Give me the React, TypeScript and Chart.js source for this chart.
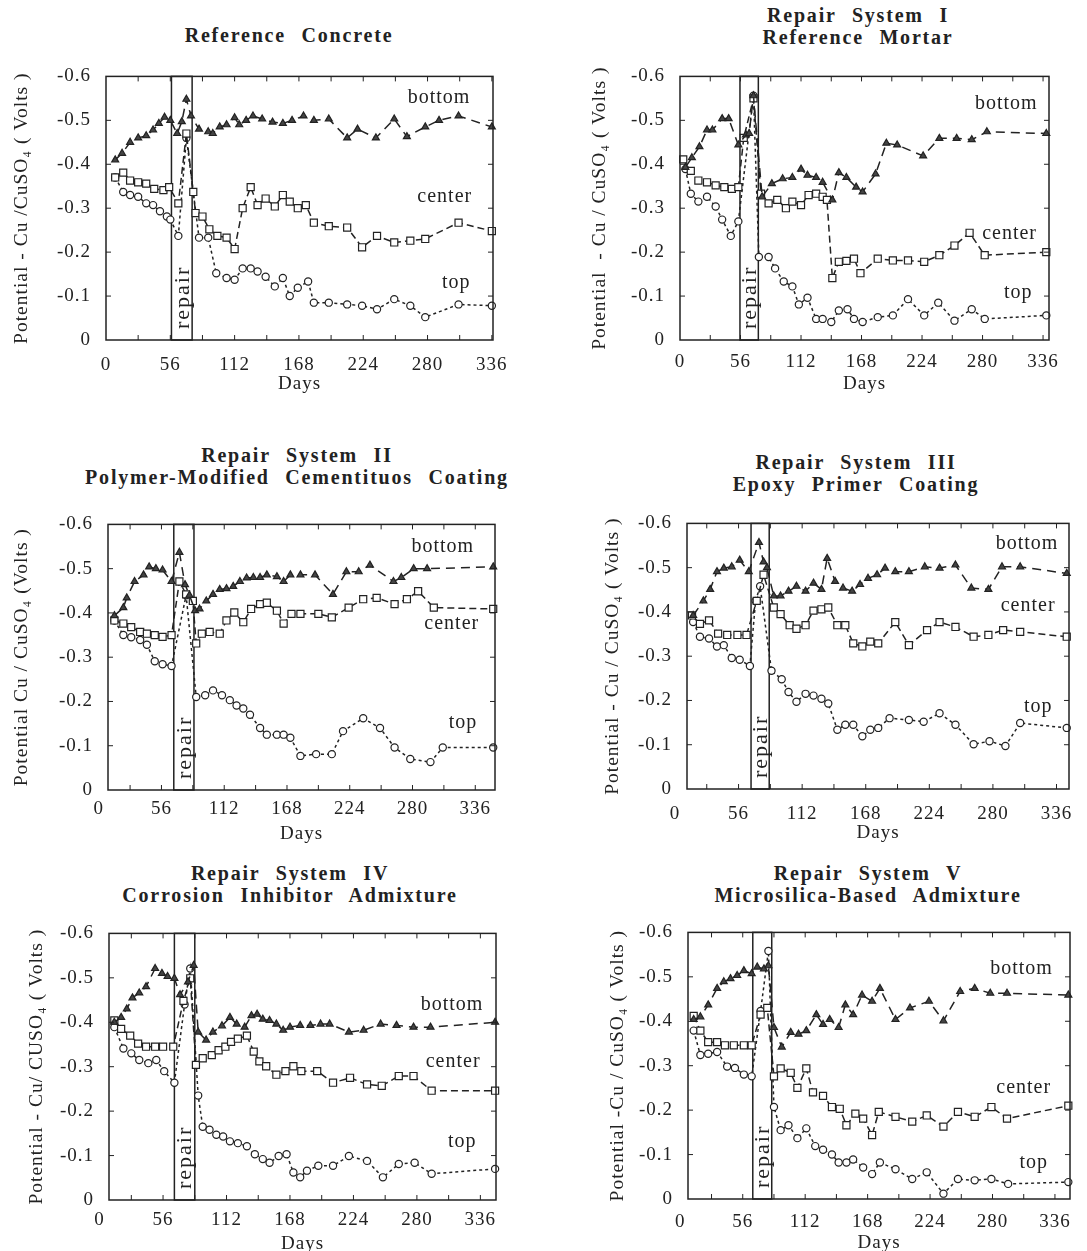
import React, { useEffect, useRef } from "react";
import { Chart, registerables } from "chart.js";

Chart.register(...registerables);

type Pt = [number, number]; // [day, potential in volts]

// ---------- Reference Concrete ----------
const refConcreteBottom: Pt[] = [[8,-0.41],[14,-0.425],[21,-0.45],[28,-0.46],[35,-0.465],[41,-0.478],[46,-0.493],[51,-0.507],[56,-0.5],[62,-0.47],[66,-0.497],[70,-0.548],[74,-0.51],[81,-0.48],[89,-0.474],[93,-0.47],[99,-0.485],[105,-0.49],[112,-0.506],[116,-0.49],[122,-0.5],[128,-0.51],[136,-0.503],[145,-0.496],[154,-0.493],[162,-0.5],[172,-0.51],[181,-0.5],[194,-0.503],[210,-0.46],[219,-0.48],[235,-0.46],[251,-0.503],[262,-0.463],[278,-0.485],[290,-0.5],[307,-0.51],[336,-0.485]];
const refConcreteCenter: Pt[] = [[8,-0.37],[15,-0.381],[21,-0.363],[28,-0.359],[35,-0.356],[42,-0.344],[50,-0.341],[55,-0.348],[63,-0.311],[70,-0.47],[76,-0.337],[78,-0.289],[84,-0.281],[90,-0.252],[97,-0.237],[105,-0.233],[112,-0.207],[119,-0.3],[126,-0.348],[132,-0.307],[139,-0.322],[147,-0.304],[154,-0.33],[160,-0.315],[167,-0.3],[174,-0.307],[181,-0.267],[194,-0.259],[210,-0.256],[223,-0.211],[236,-0.237],[251,-0.222],[265,-0.226],[278,-0.23],[307,-0.267],[336,-0.248]];
const refConcreteTop: Pt[] = [[8,-0.37],[15,-0.337],[21,-0.33],[28,-0.326],[35,-0.311],[41,-0.307],[47,-0.293],[53,-0.281],[56,-0.274],[63,-0.237],[70,-0.46],[81,-0.233],[89,-0.233],[96,-0.152],[105,-0.141],[112,-0.137],[119,-0.163],[126,-0.163],[132,-0.156],[139,-0.144],[147,-0.122],[154,-0.141],[160,-0.1],[167,-0.119],[176,-0.133],[181,-0.085],[194,-0.085],[210,-0.081],[223,-0.078],[236,-0.07],[251,-0.093],[265,-0.078],[278,-0.052],[307,-0.081],[336,-0.078]];

// ---------- Repair System I ----------
const sys1Bottom: Pt[] = [[5,-0.393],[11,-0.415],[18,-0.44],[25,-0.478],[30,-0.478],[39,-0.504],[45,-0.504],[54,-0.444],[61,-0.467],[64,-0.47],[68,-0.556],[76,-0.326],[85,-0.356],[95,-0.367],[104,-0.37],[112,-0.389],[118,-0.375],[126,-0.37],[132,-0.359],[141,-0.319],[147,-0.381],[154,-0.37],[163,-0.348],[169,-0.337],[181,-0.378],[191,-0.448],[201,-0.444],[225,-0.419],[240,-0.459],[256,-0.459],[270,-0.456],[284,-0.474],[339,-0.47]];
const sys1Center: Pt[] = [[3,-0.411],[10,-0.385],[17,-0.363],[25,-0.359],[33,-0.352],[41,-0.348],[48,-0.344],[54,-0.348],[59,-0.46],[68,-0.55],[75,-0.333],[82,-0.311],[90,-0.319],[98,-0.3],[104,-0.315],[112,-0.307],[119,-0.33],[126,-0.333],[132,-0.326],[136,-0.319],[141,-0.141],[147,-0.178],[154,-0.18],[161,-0.185],[167,-0.152],[183,-0.185],[197,-0.181],[211,-0.181],[226,-0.178],[240,-0.193],[254,-0.215],[268,-0.244],[282,-0.193],[339,-0.2]];
const sys1Top: Pt[] = [[5,-0.389],[10,-0.333],[17,-0.315],[25,-0.326],[33,-0.304],[39,-0.274],[47,-0.237],[54,-0.27],[68,-0.556],[73,-0.189],[82,-0.189],[88,-0.163],[96,-0.133],[104,-0.122],[110,-0.081],[118,-0.096],[126,-0.048],[132,-0.048],[140,-0.041],[147,-0.067],[155,-0.07],[161,-0.048],[169,-0.041],[183,-0.052],[197,-0.056],[211,-0.093],[226,-0.056],[239,-0.085],[254,-0.044],[270,-0.07],[282,-0.048],[339,-0.056]];

// ---------- Repair System II ----------
const sys2Bottom: Pt[] = [[14,-0.394],[22,-0.412],[25,-0.434],[32,-0.471],[40,-0.486],[45,-0.504],[51,-0.5],[57,-0.497],[65,-0.471],[72,-0.537],[77,-0.464],[81,-0.44],[86,-0.405],[90,-0.409],[96,-0.427],[102,-0.442],[108,-0.453],[114,-0.455],[120,-0.46],[126,-0.471],[132,-0.479],[138,-0.48],[144,-0.48],[150,-0.486],[159,-0.482],[165,-0.471],[171,-0.486],[180,-0.486],[193,-0.486],[209,-0.442],[221,-0.493],[232,-0.493],[242,-0.508],[263,-0.471],[270,-0.48],[281,-0.5],[293,-0.5],[352,-0.504]];
const sys2Center: Pt[] = [[14,-0.383],[22,-0.376],[29,-0.368],[37,-0.357],[43,-0.353],[50,-0.35],[57,-0.346],[65,-0.35],[72,-0.471],[78,-0.442],[84,-0.427],[87,-0.331],[92,-0.353],[99,-0.357],[108,-0.353],[114,-0.383],[121,-0.401],[129,-0.379],[136,-0.409],[144,-0.42],[150,-0.423],[159,-0.405],[165,-0.376],[172,-0.398],[180,-0.398],[196,-0.398],[208,-0.39],[223,-0.412],[236,-0.431],[248,-0.434],[264,-0.42],[275,-0.431],[285,-0.449],[299,-0.412],[352,-0.409]];
const sys2Top: Pt[] = [[14,-0.383],[22,-0.35],[29,-0.345],[37,-0.339],[43,-0.328],[50,-0.291],[57,-0.284],[65,-0.28],[78,-0.44],[87,-0.21],[95,-0.214],[102,-0.225],[110,-0.214],[117,-0.203],[123,-0.191],[129,-0.184],[135,-0.17],[144,-0.14],[150,-0.125],[159,-0.125],[165,-0.125],[171,-0.118],[180,-0.077],[194,-0.081],[208,-0.081],[218,-0.133],[236,-0.162],[251,-0.14],[264,-0.096],[278,-0.07],[296,-0.063],[307,-0.096],[352,-0.096]];

// ---------- Repair System III ----------
const sys3Bottom: Pt[] = [[16,-0.392],[25,-0.425],[31,-0.451],[37,-0.491],[43,-0.499],[50,-0.502],[57,-0.517],[65,-0.491],[74,-0.557],[78,-0.513],[81,-0.5],[87,-0.436],[93,-0.436],[100,-0.447],[107,-0.458],[115,-0.447],[122,-0.465],[129,-0.451],[134,-0.521],[141,-0.469],[148,-0.454],[156,-0.447],[163,-0.462],[170,-0.476],[178,-0.484],[185,-0.499],[194,-0.491],[206,-0.491],[220,-0.502],[233,-0.499],[247,-0.506],[261,-0.454],[276,-0.451],[288,-0.502],[304,-0.502],[345,-0.487]];
const sys3Center: Pt[] = [[15,-0.392],[22,-0.373],[30,-0.381],[38,-0.351],[46,-0.348],[55,-0.348],[63,-0.348],[72,-0.425],[78,-0.484],[87,-0.41],[93,-0.395],[101,-0.37],[107,-0.362],[115,-0.37],[122,-0.403],[129,-0.406],[135,-0.41],[143,-0.37],[150,-0.37],[157,-0.329],[165,-0.322],[172,-0.333],[179,-0.329],[194,-0.377],[206,-0.325],[222,-0.359],[233,-0.377],[247,-0.366],[263,-0.344],[276,-0.348],[289,-0.359],[304,-0.355],[345,-0.344]];
const sys3Top: Pt[] = [[16,-0.377],[22,-0.344],[30,-0.34],[37,-0.322],[43,-0.325],[50,-0.296],[57,-0.292],[66,-0.278],[71,-0.425],[75,-0.458],[85,-0.267],[94,-0.248],[100,-0.219],[107,-0.197],[115,-0.215],[122,-0.211],[129,-0.204],[135,-0.193],[143,-0.134],[150,-0.145],[157,-0.145],[165,-0.119],[172,-0.134],[179,-0.138],[189,-0.16],[206,-0.156],[219,-0.152],[233,-0.171],[247,-0.145],[263,-0.101],[277,-0.108],[291,-0.097],[304,-0.149],[345,-0.138]];

// ---------- Repair System IV ----------
const sys4Bottom: Pt[] = [[13,-0.4],[19,-0.411],[24,-0.43],[29,-0.455],[35,-0.466],[41,-0.48],[49,-0.521],[55,-0.51],[60,-0.503],[66,-0.499],[71,-0.462],[78,-0.491],[83,-0.528],[87,-0.378],[94,-0.36],[100,-0.378],[108,-0.392],[115,-0.411],[121,-0.396],[128,-0.389],[134,-0.415],[139,-0.418],[144,-0.407],[150,-0.404],[156,-0.396],[162,-0.382],[168,-0.389],[177,-0.393],[186,-0.393],[195,-0.396],[203,-0.396],[220,-0.378],[233,-0.382],[248,-0.396],[262,-0.393],[277,-0.389],[292,-0.389],[349,-0.4]];
const sys4Center: Pt[] = [[13,-0.404],[19,-0.385],[27,-0.37],[34,-0.352],[41,-0.345],[49,-0.345],[56,-0.345],[65,-0.345],[74,-0.448],[80,-0.499],[85,-0.304],[91,-0.319],[99,-0.326],[105,-0.337],[111,-0.345],[116,-0.356],[122,-0.363],[130,-0.37],[136,-0.334],[141,-0.312],[147,-0.301],[156,-0.282],[164,-0.29],[171,-0.301],[178,-0.29],[192,-0.29],[206,-0.264],[221,-0.275],[236,-0.26],[249,-0.257],[264,-0.279],[277,-0.279],[293,-0.246],[349,-0.246]];
const sys4Top: Pt[] = [[13,-0.389],[21,-0.341],[28,-0.33],[35,-0.315],[43,-0.308],[50,-0.315],[57,-0.29],[66,-0.264],[75,-0.44],[80,-0.521],[87,-0.235],[91,-0.165],[97,-0.158],[103,-0.147],[109,-0.143],[115,-0.132],[122,-0.128],[130,-0.121],[137,-0.103],[144,-0.092],[150,-0.084],[158,-0.099],[165,-0.103],[171,-0.062],[177,-0.051],[183,-0.066],[193,-0.077],[206,-0.077],[220,-0.099],[236,-0.088],[250,-0.051],[264,-0.081],[278,-0.084],[293,-0.059],[349,-0.07]];

// ---------- Repair System V ----------
const sys5Bottom: Pt[] = [[12,-0.404],[18,-0.41],[25,-0.437],[33,-0.474],[39,-0.489],[45,-0.496],[51,-0.503],[57,-0.514],[64,-0.507],[69,-0.522],[75,-0.518],[79,-0.525],[84,-0.386],[91,-0.342],[99,-0.375],[106,-0.371],[113,-0.379],[122,-0.415],[128,-0.393],[134,-0.404],[142,-0.386],[148,-0.437],[155,-0.415],[163,-0.459],[172,-0.445],[179,-0.474],[193,-0.404],[206,-0.43],[223,-0.445],[236,-0.401],[251,-0.467],[264,-0.474],[278,-0.463],[293,-0.463],[348,-0.459]];
const sys5Center: Pt[] = [[12,-0.412],[18,-0.379],[25,-0.353],[33,-0.353],[40,-0.346],[48,-0.346],[57,-0.346],[64,-0.346],[72,-0.415],[78,-0.43],[84,-0.276],[90,-0.294],[99,-0.284],[105,-0.25],[113,-0.294],[119,-0.24],[128,-0.232],[136,-0.207],[143,-0.203],[149,-0.166],[157,-0.192],[164,-0.181],[172,-0.144],[178,-0.196],[193,-0.185],[208,-0.174],[221,-0.188],[236,-0.163],[249,-0.196],[264,-0.185],[279,-0.207],[293,-0.181],[348,-0.21]];
const sys5Top: Pt[] = [[12,-0.379],[18,-0.324],[25,-0.327],[33,-0.331],[42,-0.298],[49,-0.295],[57,-0.28],[64,-0.276],[72,-0.423],[79,-0.558],[84,-0.207],[90,-0.155],[97,-0.166],[105,-0.137],[113,-0.159],[121,-0.119],[128,-0.111],[136,-0.1],[142,-0.082],[149,-0.082],[155,-0.089],[164,-0.071],[172,-0.056],[179,-0.082],[193,-0.067],[208,-0.045],[221,-0.06],[236,-0.012],[249,-0.045],[264,-0.042],[279,-0.045],[294,-0.034],[348,-0.038]];

const X_TICKS = [0, 56, 112, 168, 224, 280, 336];
const Y_TICKS = [-0.6, -0.5, -0.4, -0.3, -0.2, -0.1, 0];
const SERIES_LABELS = ["bottom", "center", "top"];

const SERIF = "'Liberation Serif', 'Times New Roman', Times, serif";
const INK = "#222222";
const Y_W = 100;
const PAD_T = 20;
const PAD_R = 40;
const X_H = 60;

interface PanelSpec {
  title: string[];
  titleX: number;
  titleY: number;
  yTitle: string;
  yTitlePad: number;
  tickPad: number;
  box: [number, number, number, number];
  xRange: [number, number];
  repair: [number, number];
  series: Pt[][];
  labelPos: Pt[];
}

const PANELS: PanelSpec[] = [
  {
    title: ["Reference  Concrete"], titleX: 289, titleY: 35,
    yTitle: "Potential - Cu /CuSO\u2084 ( Volts )", yTitlePad: 4.6, tickPad: 14,
    box: [106, 70, 493, 340], xRange: [0, 337], repair: [57, 75],
    series: [refConcreteBottom, refConcreteCenter, refConcreteTop],
    labelPos: [[290, -0.552], [295, -0.326], [305, -0.13]],
  },
  {
    title: ["Repair  System  I", "Reference  Mortar"], titleX: 858, titleY: 15,
    yTitle: "Potential  - Cu / CuSO\u2084 ( Volts )", yTitlePad: 8.6, tickPad: 11,
    box: [680, 70, 1049, 340], xRange: [0, 341.5], repair: [55.5, 72.5],
    series: [sys1Bottom, sys1Center, sys1Top],
    labelPos: [[302, -0.537], [305, -0.241], [313, -0.107]],
  },
  {
    title: ["Repair  System  II", "Polymer-Modified  Cementituos  Coating"], titleX: 297, titleY: 455,
    yTitle: "Potential Cu / CuSO\u2084 (Volts )", yTitlePad: 2.6, tickPad: 8,
    box: [108, 518, 495, 790], xRange: [8.3, 353.6], repair: [67, 85],
    series: [sys2Bottom, sys2Center, sys2Top],
    labelPos: [[307, -0.549], [315, -0.376], [325, -0.151]],
  },
  {
    title: ["Repair  System  III", "Epoxy  Primer  Coating"], titleX: 856, titleY: 462,
    yTitle: "Potential - Cu / CuSO\u2084 ( Volts )", yTitlePad: 14.6, tickPad: 14,
    box: [687, 517, 1069, 789], xRange: [10.6, 347], repair: [67, 83],
    series: [sys3Bottom, sys3Center, sys3Top],
    labelPos: [[310, -0.554], [311, -0.414], [320, -0.186]],
  },
  {
    title: ["Repair  System  IV", "Corrosion  Inhibitor  Admixture"], titleX: 290, titleY: 873,
    yTitle: "Potential - Cu/ CUSO\u2084 ( Volts )", yTitlePad: 16.6, tickPad: 9,
    box: [109, 927, 496, 1200], xRange: [8.3, 349.8], repair: [66, 84],
    series: [sys4Bottom, sys4Center, sys4Top],
    labelPos: [[311, -0.44], [312, -0.312], [320, -0.132]],
  },
  {
    title: ["Repair  System  V", "Microsilica-Based  Admixture"], titleX: 868, titleY: 873,
    yTitle: "Potential -Cu / CuSO\u2084 ( Volts )", yTitlePad: 18.6, tickPad: 12,
    box: [688, 926, 1070, 1199], xRange: [6.9, 349.5], repair: [65, 82],
    series: [sys5Bottom, sys5Center, sys5Top],
    labelPos: [[306, -0.518], [308, -0.251], [317, -0.082]],
  },
];

const SERIES_STYLE = [
  { pointStyle: "triangle", radius: 4, fill: "#444444", dash: [9, 6] },
  { pointStyle: "rect", radius: 5, fill: "#ffffff", dash: [7, 4] },
  { pointStyle: "circle", radius: 3.6, fill: "#ffffff", dash: [3, 3] },
];

function makePlugin(spec: PanelSpec) {
  return {
    id: "frameAndNotes",
    beforeDraw(chart: any) {
      (chart.ctx as any).letterSpacing = "1px";
    },
    beforeDatasetsDraw(chart: any) {
      const { ctx, chartArea: a, scales } = chart;
      const xs = scales.x;
      const x1 = xs.getPixelForValue(spec.repair[0]);
      const x2 = xs.getPixelForValue(spec.repair[1]);
      ctx.save();
      ctx.strokeStyle = INK;
      ctx.lineWidth = 1.5;
      ctx.strokeRect(x1, a.top, x2 - x1, a.bottom - a.top);
      ctx.translate((x1 + x2) / 2, a.bottom - 11);
      ctx.rotate(-Math.PI / 2);
      ctx.font = `22px ${SERIF}`;
      (ctx as any).letterSpacing = "2px";
      ctx.fillStyle = INK;
      ctx.textAlign = "left";
      ctx.textBaseline = "middle";
      ctx.fillText("repair", 0, 1);
      ctx.restore();
    },
    afterDraw(chart: any) {
      const { ctx, chartArea: a, scales } = chart;
      const xs = scales.x;
      const ys = scales.y;
      ctx.save();
      ctx.strokeStyle = INK;
      ctx.lineWidth = 1.5;
      ctx.strokeRect(a.left, a.top, a.right - a.left, a.bottom - a.top);
      ctx.lineWidth = 1;
      ctx.beginPath();
      for (let d = 0; d <= 350; d += 28) {
        if (d <= spec.xRange[0] || d >= spec.xRange[1]) continue;
        const px = xs.getPixelForValue(d);
        ctx.moveTo(px, a.top);
        ctx.lineTo(px, a.top + 5);
        ctx.moveTo(px, a.bottom);
        ctx.lineTo(px, a.bottom - 5);
      }
      for (const v of Y_TICKS) {
        if (v === 0 || v === -0.6) continue;
        const py = ys.getPixelForValue(v);
        ctx.moveTo(a.left, py);
        ctx.lineTo(a.left + 5, py);
        ctx.moveTo(a.right, py);
        ctx.lineTo(a.right - 5, py);
      }
      ctx.stroke();
      ctx.font = `20px ${SERIF}`;
      (ctx as any).letterSpacing = "1px";
      ctx.fillStyle = INK;
      ctx.textAlign = "center";
      ctx.textBaseline = "middle";
      spec.labelPos.forEach(([d, v], i) => {
        ctx.fillText(SERIES_LABELS[i], xs.getPixelForValue(d), ys.getPixelForValue(v));
      });
      ctx.restore();
      (ctx as any).letterSpacing = "0px";
    },
  };
}

function Panel({ spec }: { spec: PanelSpec }) {
  const ref = useRef<HTMLCanvasElement>(null);
  const [l, t, r, b] = spec.box;
  const cw = r - l + Y_W + PAD_R;
  const ch = b - t + PAD_T + X_H;

  useEffect(() => {
    if (!ref.current) return;
    const datasets = spec.series.map((pts, i) => {
      const st = SERIES_STYLE[i];
      return {
        label: SERIES_LABELS[i],
        data: pts.map(([x, y]) => ({ x, y })),
        showLine: true,
        borderColor: INK,
        borderWidth: 1.5,
        borderDash: st.dash,
        pointStyle: st.pointStyle,
        pointRadius: st.radius,
        pointBorderWidth: 1.2,
        pointBorderColor: INK,
        pointBackgroundColor: st.fill,
        clip: false as any,
      };
    });
    const chart = new Chart(ref.current, {
      type: "scatter",
      data: { datasets: datasets as any },
      options: {
        animation: false,
        responsive: false,
        maintainAspectRatio: false,
        devicePixelRatio: 1,
        layout: { padding: { left: 0, top: PAD_T, right: PAD_R, bottom: 0 } },
        plugins: { legend: { display: false }, tooltip: { enabled: false } },
        scales: {
          x: {
            type: "linear",
            min: spec.xRange[0],
            max: spec.xRange[1],
            afterBuildTicks: (s: any) => {
              s.ticks = X_TICKS.map((v) => ({ value: v }));
            },
            afterFit: (s: any) => {
              s.height = X_H;
            },
            ticks: {
              autoSkip: false,
              maxRotation: 0,
              padding: spec.tickPad,
              color: INK,
              font: { family: SERIF, size: 19 },
              callback: (v: any) => String(v),
            },
            grid: { display: false, drawTicks: false },
            border: { display: false },
            title: {
              display: true,
              text: "Days",
              color: INK,
              font: { family: SERIF, size: 19 },
              padding: { top: 0, bottom: 5 },
            },
          },
          y: {
            type: "linear",
            min: -0.6,
            max: 0,
            reverse: true,
            afterBuildTicks: (s: any) => {
              s.ticks = Y_TICKS.map((v) => ({ value: v }));
            },
            afterFit: (s: any) => {
              s.width = Y_W;
            },
            ticks: {
              autoSkip: false,
              padding: 15,
              color: INK,
              font: { family: SERIF, size: 19 },
              callback: (v: any) => (Math.abs(v) < 1e-9 ? "0" : Number(v).toFixed(1)),
            },
            grid: { display: false, drawTicks: false },
            border: { display: false },
            title: {
              display: true,
              text: spec.yTitle,
              color: INK,
              font: { family: SERIF, size: 19.5 },
              padding: { top: spec.yTitlePad, bottom: 0 },
            },
          },
        },
      } as any,
      plugins: [makePlugin(spec) as any],
    });
    return () => chart.destroy();
  }, [spec]);

  return (
    <>
      <div
        style={{
          position: "absolute",
          left: spec.titleX - 300,
          top: spec.titleY - 11,
          width: 600,
          textAlign: "center",
          fontFamily: SERIF,
          fontWeight: "bold",
          fontSize: 20,
          lineHeight: "22px",
          letterSpacing: "1.8px",
          wordSpacing: "1px",
          color: INK,
          whiteSpace: "pre",
        }}
      >
        {spec.title.join("\n")}
      </div>
      <canvas
        ref={ref}
        width={cw}
        height={ch}
        style={{ position: "absolute", left: l - Y_W, top: t - PAD_T, width: cw, height: ch }}
      />
    </>
  );
}

export default function App() {
  return (
    <div
      style={{
        position: "absolute",
        left: 0,
        top: 0,
        width: 1087,
        height: 1251,
        overflow: "hidden",
        background: "#ffffff",
      }}
    >
      {PANELS.map((p, i) => (
        <Panel key={i} spec={p} />
      ))}
    </div>
  );
}
